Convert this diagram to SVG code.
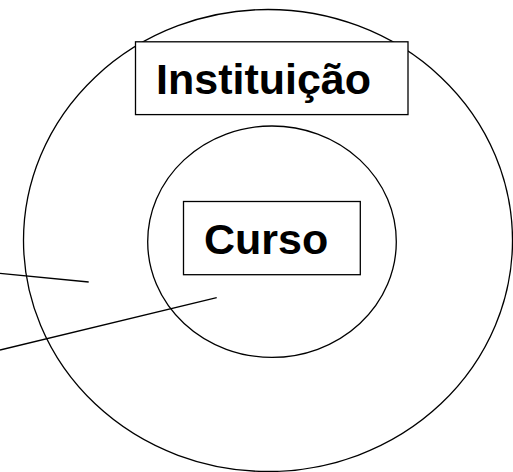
<svg xmlns="http://www.w3.org/2000/svg" width="513" height="472" viewBox="0 0 513 472">
<style>
.s{fill:none;stroke:#000;stroke-width:1.3}
.b{fill:#fff;stroke:#000;stroke-width:1.3}
.t{font-family:"Liberation Sans",Arial,sans-serif;font-weight:bold;font-size:43px;fill:#000}
</style>
<rect width="513" height="472" fill="#fff"/>
<g id="outer"><ellipse class="s" cx="268" cy="240.5" rx="244.5" ry="231"/></g>
<g id="inner"><ellipse class="s" cx="272" cy="241.7" rx="124.3" ry="115.7"/></g>
<g id="instituicao"><rect class="b" x="135.5" y="41.8" width="272.5" height="72.8"/><text class="t" x="156" y="94">Instituição</text></g>
<g id="curso"><rect class="b" x="183.5" y="201.5" width="176.8" height="73.2"/><text class="t" x="204" y="254">Curso</text></g>
<g id="connectors">
<line class="s" x1="0" y1="273.3" x2="88.7" y2="282"/>
<line class="s" x1="0" y1="350" x2="216.7" y2="297.7"/>
</g>
</svg>
